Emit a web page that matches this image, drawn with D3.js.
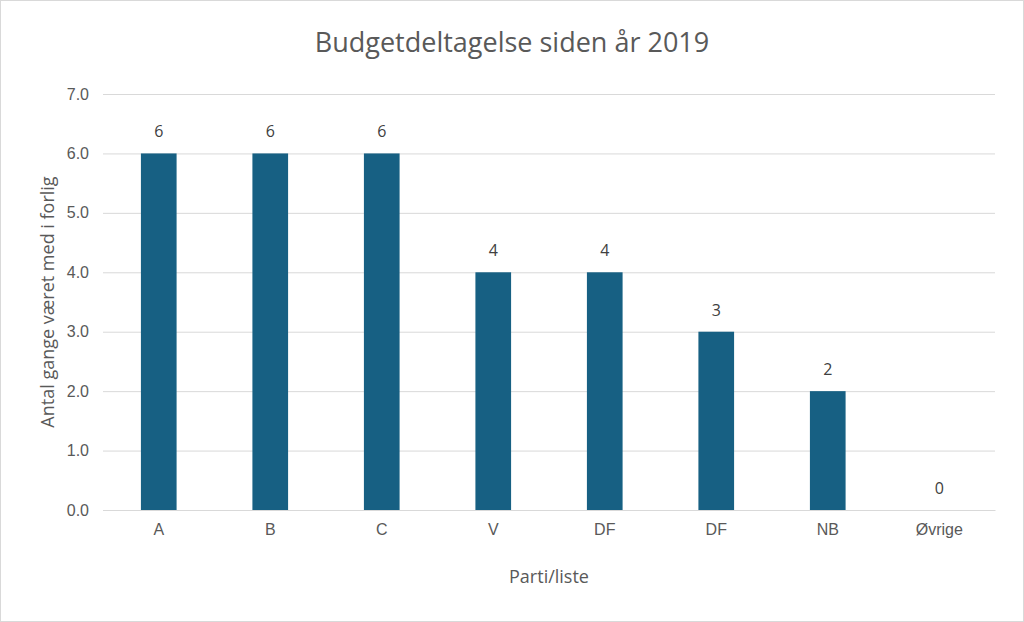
<!DOCTYPE html>
<html>
<head>
<meta charset="utf-8">
<style>
  body { margin: 0; background: #fff; }
  svg { font-family: 'Open Sans', 'Noto Sans', Arial, sans-serif; }
  .grid line { stroke: #d9d9d9; }
  .grid .domain { display: none; }
  .tick text { fill: #595959; font-size: 16px; }
  .x .tick line, .y .tick line { display: none; }
  .y .domain { display: none; }
  .x .domain { stroke: #d9d9d9; }
</style>
</head>
<body>
<svg width="1024" height="622"></svg>
<script src="https://d3js.org/d3.v7.min.js"></script>
<script>
// data
let parties = ["A", "B", "C", "V", "DF", "DF ", "NB", "Øvrige"];
let counts = [6, 6, 6, 4, 4, 3, 2, 0];
let yTicks = [0, 1, 2, 3, 4, 5, 6, 7];

let width = 1024, height = 622;
let margin = { top: 94, right: 29, bottom: 112, left: 103 };

let svg = d3.select("svg");

svg.append("rect")
    .attr("x", 0.5).attr("y", 0.5)
    .attr("width", width - 1).attr("height", height - 1)
    .attr("fill", "#fff").attr("stroke", "#d9d9d9");

let x = d3.scaleBand()
    .domain(parties)
    .range([margin.left, width - margin.right])
    .paddingInner(0.68)
    .paddingOuter(0.34);

let y = d3.scaleLinear()
    .domain([0, 7])
    .range([height - margin.bottom, margin.top]);

// gridlines
svg.append("g")
    .attr("class", "grid")
    .attr("transform", `translate(${margin.left},0)`)
    .call(d3.axisLeft(y).tickValues(yTicks).tickSize(-(width - margin.left - margin.right)).tickFormat(""));

svg.append("g")
    .attr("class", "y axis")
    .attr("transform", `translate(${margin.left - 14},0)`)
    .call(d3.axisLeft(y).tickValues(yTicks).tickSize(0).tickPadding(0));

svg.append("g")
    .attr("class", "x axis")
    .attr("transform", `translate(0,${height - margin.bottom})`)
    .call(d3.axisBottom(x).tickSize(0).tickPadding(14).tickFormat(d => d.trim()));

// bars
svg.append("g")
    .selectAll("rect")
    .data(counts)
    .join("rect")
    .attr("x", (d, i) => x(parties[i]))
    .attr("width", x.bandwidth())
    .attr("y", d => y(d))
    .attr("height", d => y(0) - y(d))
    .attr("fill", "#176083");

// value labels
svg.append("g")
    .selectAll("text")
    .data(counts)
    .join("text")
    .attr("x", (d, i) => x(parties[i]) + x.bandwidth() / 2)
    .attr("y", d => y(d) - 16)
    .attr("text-anchor", "middle")
    .attr("fill", "#404040")
    .style("font-size", "16px")
    .text(d => d);

// title and axis labels
svg.append("text")
    .attr("x", 512).attr("y", 52)
    .attr("text-anchor", "middle")
    .attr("fill", "#595959")
    .style("font-size", "27px")
    .text("Budgetdeltagelse siden år 2019");

svg.append("text")
    .attr("x", 549).attr("y", 583)
    .attr("text-anchor", "middle")
    .attr("fill", "#595959")
    .style("font-size", "18px")
    .text("Parti/liste");

svg.append("text")
    .attr("transform", `translate(54,${(margin.top + height - margin.bottom) / 2}) rotate(-90)`)
    .attr("text-anchor", "middle")
    .attr("fill", "#595959")
    .style("font-size", "18px")
    .text("Antal gange været med i forlig");
</script>
</body>
</html>
